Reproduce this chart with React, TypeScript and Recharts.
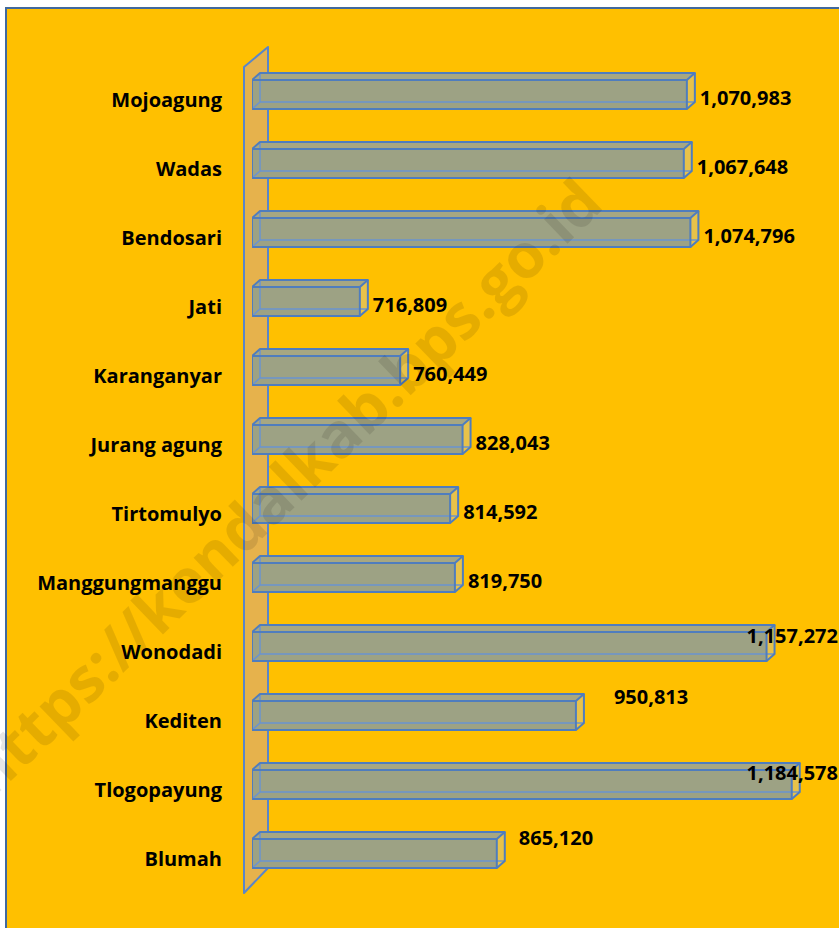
import React from "react";
import { BarChart, Bar, XAxis, YAxis } from "recharts";

const categories = [
  "Mojoagung",
  "Wadas",
  "Bendosari",
  "Jati",
  "Karanganyar",
  "Jurang agung",
  "Tirtomulyo",
  "Manggungmanggu",
  "Wonodadi",
  "Kediten",
  "Tlogopayung",
  "Blumah",
];
const values = [
  1070983, 1067648, 1074796, 716809, 760449, 828043, 814592, 819750, 1157272,
  950813, 1184578, 865120,
];
const axisDomain = [600000, 1200000];
const watermark = "https://kendalkab.bps.go.id";

const data = categories.map((name, i) => ({ name, value: values[i] }));

const W = 839;
const H = 928;
const MARGIN = { top: 60, right: 33, bottom: 40, left: 0 };
const YAXIS_W = 252;
const DX = 8;
const DY = 7;
const FONT = "'Open Sans', 'Noto Sans', sans-serif";
const EDGE = "#4F7DBE";
const FS = 20;

const fmt = (v: number) => v.toLocaleString("en-US");

const Box3D = (props: any) => {
  const { x, y, width, height } = props;
  const x2 = x + width;
  const y2 = y + height;
  return (
    <g>
      <rect x={x + DX} y={y - DY} width={width} height={height} fill="#A4A77E" fillOpacity={0.25} />
      <rect x={x} y={y} width={width} height={height} fill="#9DA284" />
      <polygon
        points={`${x},${y} ${x + DX},${y - DY} ${x2 + DX},${y - DY} ${x2},${y}`}
        fill="#A7A782"
      />
      <polygon
        points={`${x2},${y} ${x2 + DX},${y - DY} ${x2 + DX},${y2 - DY} ${x2},${y2}`}
        fill="#E8C24A"
      />
      <g stroke="#6A93D0" strokeWidth={1.5} fill="none">
        <line x1={x + DX} y1={y - DY} x2={x + DX} y2={y2 - DY} />
        <line x1={x + DX} y1={y2 - DY} x2={x2 + DX} y2={y2 - DY} />
        <line x1={x} y1={y2} x2={x + DX} y2={y2 - DY} />
      </g>
      <g stroke={EDGE} strokeWidth={2} fill="none" strokeLinejoin="round">
        <rect x={x} y={y} width={width} height={height} />
        <polyline points={`${x},${y} ${x + DX},${y - DY} ${x2 + DX},${y - DY} ${x2},${y}`} />
        <polyline points={`${x2 + DX},${y - DY} ${x2 + DX},${y2 - DY} ${x2},${y2}`} />
      </g>
    </g>
  );
};

const labelAdjust: Record<string, { dx?: number; dy: number; endAt?: number }> = {
  Wonodadi: { endAt: 838, dy: -11 },
  Tlogopayung: { endAt: 838, dy: -12 },
  Kediten: { dx: 38, dy: -19 },
  Blumah: { dx: 22, dy: -16 },
};

const ValueLabel = (props: any) => {
  const { x, y, width, height, value, index } = props;
  const name = categories[index];
  const adj = labelAdjust[name];
  const cy = y + height / 2;
  let tx = x + width + 13;
  let ty = cy + 2.5;
  let anchor: "start" | "end" = "start";
  if (adj) {
    ty = cy + adj.dy;
    if (adj.endAt !== undefined) {
      tx = adj.endAt;
      anchor = "end";
    } else {
      tx = x + width + (adj.dx ?? 13);
    }
  }
  return (
    <text
      x={tx}
      y={ty}
      textAnchor={anchor}
      dominantBaseline="central"
      fontFamily={FONT}
      fontWeight={700}
      fontSize={FS}
      fill="#000"
    >
      {fmt(value)}
    </text>
  );
};

const CatTick = (props: any) => {
  const { y, payload } = props;
  return (
    <text
      x={222}
      y={y + 5}
      textAnchor="end"
      dominantBaseline="central"
      fontFamily={FONT}
      fontWeight={700}
      fontSize={FS}
      fill="#000"
    >
      {payload.value}
    </text>
  );
};

export default function App() {
  const plotLeft = MARGIN.left + YAXIS_W;
  const plotTop = MARGIN.top;
  const plotBottom = H - MARGIN.bottom;
  return (
    <div
      style={{
        position: "fixed",
        left: 0,
        top: 0,
        width: W,
        height: H,
        overflow: "hidden",
        background: "#fff",
      }}
    >
      <div
        style={{
          position: "absolute",
          left: 5,
          top: 7,
          width: 900,
          height: 1000,
          border: "2px solid #41699E",
          background: "#FFC000",
        }}
      />
      <svg width={W} height={H} style={{ position: "absolute", left: 0, top: 0 }}>
        <polygon
          points={`${plotLeft - 8},${plotTop + 7} ${plotLeft + 16},${plotTop - 13} ${plotLeft + 16},${plotBottom - 20} ${plotLeft - 8},${plotBottom + 5}`}
          fill="#E6B24C"
          stroke="#5B86C8"
          strokeWidth={2}
          strokeLinejoin="round"
        />
      </svg>
      <div style={{ position: "absolute", left: 0, top: 0 }}>
        <BarChart width={W} height={H} data={data} layout="vertical" margin={MARGIN}>
          <XAxis type="number" domain={axisDomain} allowDataOverflow hide />
          <YAxis
            type="category"
            dataKey="name"
            width={YAXIS_W}
            axisLine={false}
            tickLine={false}
            tick={<CatTick />}
            interval={0}
          />
          <Bar
            dataKey="value"
            barSize={29}
            shape={<Box3D />}
            label={<ValueLabel />}
            isAnimationActive={false}
          />
        </BarChart>
      </div>
      <svg
        width={W}
        height={H}
        style={{ position: "absolute", left: 0, top: 0, pointerEvents: "none" }}
      >
        <text
          x={282}
          y={486}
          transform="rotate(-44 282 486)"
          textAnchor="middle"
          dominantBaseline="central"
          fontFamily={FONT}
          fontWeight={700}
          fontSize={62}
          fill="#000"
          fillOpacity={0.1}
        >
          {watermark}
        </text>
      </svg>
    </div>
  );
}
